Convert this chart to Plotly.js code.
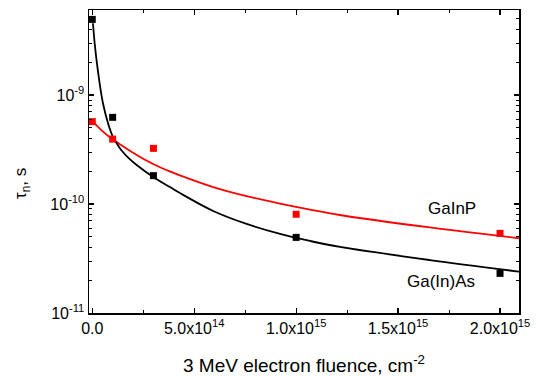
<!DOCTYPE html>
<html><head><meta charset="utf-8">
<script src="https://cdn.plot.ly/plotly-3.0.1.min.js"></script>
<style>html,body{margin:0;padding:0;background:#fff}#c{width:536px;height:376px}</style>
</head><body><div id="c"></div>
<script>
// Measured data (markers)
const fluenceData = [0, 1e14, 3e14, 1e15, 2e15];
const tauGaInAs = [4.94e-9, 6.24e-10, 1.82e-10, 4.94e-11, 2.31e-11];
const tauGaInP = [5.7e-10, 3.94e-10, 3.24e-10, 8.05e-11, 5.38e-11];
// Fit curves
const fitFluenceBlack = [0.34e13, 1.18e13, 2.3e13, 3.63e13, 5.25e13, 7.73e13, 1.01e14, 1.22e14, 1.42e14, 1.8e14, 2.18e14, 2.99e14, 3.81e14, 4.30e14, 5.93e14, 7.57e14, 9.21e14, 1.068e15, 1.215e15, 1.656e15, 2.098e15];
const fitTauBlack = [4.55e-9, 2.98e-9, 1.95e-9, 1.28e-9, 8.4e-10, 5.5e-10, 4.14e-10, 3.55e-10, 3.13e-10, 2.62e-10, 2.28e-10, 1.77e-10, 1.43e-10, 1.26e-10, 8.63e-11, 6.56e-11, 5.31e-11, 4.58e-11, 4.04e-11, 3.06e-11, 2.39e-11];
const fitFluenceRed = [0.34e13, 4.41e13, 9.32e13, 1.42e14, 2.18e14, 2.99e14, 3.81e14, 4.30e14, 5.93e14, 7.57e14, 9.21e14, 1.068e15, 1.215e15, 1.656e15, 2.098e15];
const fitTauRed = [5.69e-10, 4.77e-10, 4.01e-10, 3.48e-10, 2.82e-10, 2.33e-10, 1.99e-10, 1.83e-10, 1.43e-10, 1.18e-10, 1.01e-10, 8.9e-11, 7.93e-11, 6.09e-11, 4.84e-11];
const xTickVals = [0, 5e14, 1e15, 1.5e15, 2e15];
const xTickText = ["0.0", "5.0x10<sup>14</sup>", "1.0x10<sup>15</sup>", "1.5x10<sup>15</sup>", "2.0x10<sup>15</sup>"];
const xMinorVals = [2.5e14, 7.5e14, 1.25e15, 1.75e15];
const yTickVals = [1e-11, 1e-10, 1e-9];
const yTickText = ["10<sup>-11</sup>", "10<sup>-10</sup>", "10<sup>-9</sup>"];
const yMinorVals = [2e-11,3e-11,4e-11,5e-11,6e-11,7e-11,8e-11,9e-11,2e-10,3e-10,4e-10,5e-10,6e-10,7e-10,8e-10,9e-10,2e-9,3e-9,4e-9,5e-9];

const FONT = "Arial, 'Liberation Sans', sans-serif";
const traces = [
  {x: fitFluenceRed, y: fitTauRed, mode: 'lines', line: {color: '#ff0000', width: 1.8, shape: 'spline', smoothing: 1}, showlegend: false, hoverinfo: 'skip'},
  {x: fitFluenceBlack, y: fitTauBlack, mode: 'lines', line: {color: '#000000', width: 1.8, shape: 'spline', smoothing: 1}, showlegend: false, hoverinfo: 'skip'},
  {x: fluenceData, y: tauGaInP, mode: 'markers', marker: {symbol: 'square', size: 7, color: '#ff0000'}, showlegend: false},
  {x: fluenceData, y: tauGaInAs, mode: 'markers', marker: {symbol: 'square', size: 7, color: '#000000'}, showlegend: false}
];
const axisCommon = {showgrid: false, zeroline: false, showline: true, linecolor: '#000', linewidth: 1.5, mirror: 'ticks', ticks: 'inside', ticklen: 5, tickwidth: 1.2, tickcolor: '#000', tickfont: {family: FONT, size: 16, color: '#000'}};
const layout = {
  width: 536, height: 376,
  margin: {l: 89, r: 17, t: 10, b: 63},
  paper_bgcolor: '#fff', plot_bgcolor: '#fff',
  font: {family: FONT, color: '#000'},
  xaxis: Object.assign({}, axisCommon, {
    range: [-1.6e13, 2.093e15], tickmode: 'array', tickvals: xTickVals, ticktext: xTickText,
    minor: {tickmode: 'array', tickvals: xMinorVals, ticks: 'inside', ticklen: 3, tickcolor: '#000', tickwidth: 1},
    title: {text: '3 MeV electron fluence, cm<sup>-2</sup>', font: {family: FONT, size: 19}, standoff: 26}
  }),
  yaxis: Object.assign({}, axisCommon, {
    type: 'log', range: [-11, -8.22], tickmode: 'array', tickvals: yTickVals, ticktext: yTickText,
    minor: {tickmode: 'array', tickvals: yMinorVals, ticks: 'inside', ticklen: 3, tickcolor: '#000', tickwidth: 1}
  }),
  annotations: [
    {x: 0.8453, y: 0.3465, xref: 'paper', yref: 'paper', xanchor: 'center', yanchor: 'middle', text: 'GaInP', showarrow: false, font: {family: FONT, size: 17, color: '#000'}},
    {x: 0.8186, y: 0.1056, xref: 'paper', yref: 'paper', xanchor: 'center', yanchor: 'middle', text: 'Ga(In)As', showarrow: false, font: {family: FONT, size: 17, color: '#000'}},
    {x: -0.1558, y: 0.4257, xref: 'paper', yref: 'paper', xanchor: 'center', yanchor: 'middle', text: 'τ<sub>n</sub>, s', textangle: -90, showarrow: false, font: {family: FONT, size: 17, color: '#000'}}
  ]
};
Plotly.newPlot('c', traces, layout, {displayModeBar: false, staticPlot: true});
</script>
</body></html>
